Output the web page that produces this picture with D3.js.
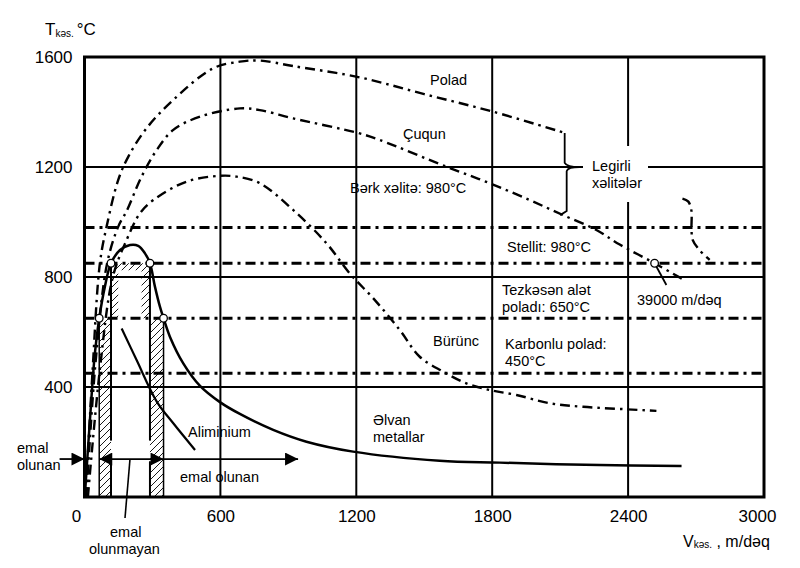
<!DOCTYPE html>
<html><head><meta charset="utf-8">
<script src="https://cdn.jsdelivr.net/npm/d3@7"></script>
<style>
html,body{margin:0;padding:0;background:#fff;}
text{font-family:"Liberation Sans",Arial,sans-serif;fill:#000;}
</style></head>
<body><svg id="c" width="800" height="568"></svg>
<script>
// ---- data ----
const xTicks = [0, 600, 1200, 1800, 2400, 3000];
const yTicks = [400, 800, 1200, 1600];
const xGrid = [600, 1200, 1800, 2400];
const yGrid = [400, 800, 1200];
const toolLimits = [980, 850, 650, 450];   // dash-dot temperature levels

const polad = [[5,0],[35,450],[68,850],[98,985],[149,1153],[193,1237],[274,1341],[392,1444],[568,1559],[686,1583],[774,1587],[921,1567],[1215,1526],[1500,1465],[1804,1401],[2120,1324]];
const cuqun = [[8,0],[50,500],[100,850],[150,985],[186,1040],[252,1165],[319,1262],[392,1335],[510,1383],[686,1413],[774,1407],[921,1377],[1215,1322],[1304,1298],[1598,1201],[1789,1141],[1965,1080],[2113,1025],[2260,971],[2363,918],[2517,850],[2641,792]];
const burunc = [[15,0],[70,480],[125,800],[186,935],[245,1032],[304,1080],[451,1147],[598,1168],[671,1165],[774,1141],[921,1044],[1068,923],[1171,813],[1282,716],[1392,607],[1480,510],[1583,456],[1686,413],[1789,389],[1907,371],[2054,341],[2201,328],[2392,319],[2525,313]];
const legirliTail = [[2640,1085],[2665,1075],[2679,1044],[2680,971],[2685,935],[2715,898],[2760,862]];
const alvan = [[2,10],[24,280],[46,524],[65,650],[90,765],[117,850],[157,898],[201,916],[237,913],[267,886],[289,850],[311,765],[333,692],[349,650],[377,583],[436,486],[510,404],[598,345],[686,302],[833,244],[980,201],[1186,165],[1568,132],[1833,125],[2274,116],[2636,113]];
const aliminium = [[164,613],[230,498],[319,347],[392,268],[488,171]];
const markers = [[65,650],[117,850],[289,850],[349,650],[2517,850]];
// hatched zones (x0,x1,y0,y1) and inverted U
const strips = [[65,117,0,650],[289,349,0,650]];
const uZone = [[117,850],[289,850],[289,650],[252,650],[252,825],[149,825],[149,650],[117,650]];
const arrowY = 138;

// ---- scales ----
const x = d3.scaleLinear().domain([0,3000]).range([84.5,764]);
const y = d3.scaleLinear().domain([0,1600]).range([497,57]);
const svg = d3.select("#c");
const line = d3.line().x(d=>x(d[0])).y(d=>y(d[1])).curve(d3.curveCatmullRom.alpha(0.5));
const lin = d3.line().x(d=>x(d[0])).y(d=>y(d[1]));

const defs = svg.append("defs");
const pat = defs.append("pattern").attr("id","hatch").attr("patternUnits","userSpaceOnUse")
  .attr("width",7).attr("height",7);
pat.append("path").attr("d","M-1,8 L8,-1 M-1,1 L1,-1 M6,8 L8,6").attr("stroke","#000").attr("stroke-width",0.9);
const ah = defs.append("marker").attr("id","ah").attr("viewBox","0 0 10 10").attr("refX",10).attr("refY",5)
  .attr("markerWidth",14).attr("markerHeight",13).attr("markerUnits","userSpaceOnUse").attr("orient","auto-start-reverse");
ah.append("path").attr("d","M0,0 L10,5 L0,10 Z").attr("fill","#000");

// hatches
svg.selectAll(".strip").data(strips).join("rect")
  .attr("x",d=>x(d[0])).attr("y",d=>y(d[3])).attr("width",d=>x(d[1])-x(d[0])).attr("height",d=>y(d[2])-y(d[3]))
  .attr("fill","url(#hatch)");
svg.append("path").attr("d",lin(uZone)+"Z").attr("fill","url(#hatch)");

// grid
svg.selectAll(".vg").data(xGrid).join("line").attr("x1",d=>x(d)).attr("x2",d=>x(d)).attr("y1",y(1600)).attr("y2",y(0))
  .attr("stroke","#000").attr("stroke-width",2);
svg.selectAll(".hg").data(yGrid).join("line").attr("x1",x(0)).attr("x2",x(3000)).attr("y1",d=>y(d)).attr("y2",d=>y(d))
  .attr("stroke","#000").attr("stroke-width",2);
svg.selectAll(".tl").data(toolLimits).join("line").attr("x1",x(0)).attr("x2",x(3000)).attr("y1",d=>y(d)).attr("y2",d=>y(d))
  .attr("stroke","#000").attr("stroke-width",3).attr("stroke-dasharray","10,5,3,5");

// strip borders
const edges = [[65,0,650],[349,0,650]];
svg.selectAll(".ed").data(edges).join("line").attr("x1",d=>x(d[0])).attr("x2",d=>x(d[0])).attr("y1",d=>y(d[1])).attr("y2",d=>y(d[2]))
  .attr("stroke","#000").attr("stroke-width",1.5);
const broken = [[117,850,205],[117,130,0],[289,850,205],[289,130,0]];
svg.selectAll(".br").data(broken).join("line").attr("x1",d=>x(d[0])).attr("x2",d=>x(d[0])).attr("y1",d=>y(d[1])).attr("y2",d=>y(d[2]))
  .attr("stroke","#000").attr("stroke-width",2);

// curves
const dd = "10,5,2.5,5";
[polad,cuqun,burunc,legirliTail].forEach(s=>{
  svg.append("path").attr("d",line(s)).attr("fill","none").attr("stroke","#000").attr("stroke-width",2.4).attr("stroke-dasharray",dd);
});
svg.append("path").attr("d",line(alvan)).attr("fill","none").attr("stroke","#000").attr("stroke-width",2.5);
svg.append("path").attr("d",line(aliminium)).attr("fill","none").attr("stroke","#000").attr("stroke-width",2.2);

// brace
const bx = x(2120);
svg.append("path").attr("d",`M${bx},${y(1324)} L${bx},${y(1215)} Q${bx+2},${y(1200)} ${x(2185)},${y(1200)} Q${bx+3},${y(1200)} ${bx+2},${y(1185)} L${bx+2},${y(1040)} L${x(2100)},${y(1025)}`)
  .attr("fill","none").attr("stroke","#000").attr("stroke-width",1.8);

// white boxes behind labels
svg.append("rect").attr("x",583).attr("y",146).attr("width",65).attr("height",56).attr("fill","#fff");
svg.append("rect").attr("x",633).attr("y",284).attr("width",97).attr("height",32).attr("fill","#fff");

// leader to 39000
svg.append("line").attr("x1",x(2517)).attr("y1",y(850)).attr("x2",x(2569)).attr("y2",y(771)).attr("stroke","#000").attr("stroke-width",1.8);

// arrows
const arr = (a,b,both)=>{
  const l = svg.append("line").attr("x1",x(a)).attr("x2",x(b)).attr("y1",y(arrowY)).attr("y2",y(arrowY))
    .attr("stroke","#000").attr("stroke-width",1.8).attr("marker-end","url(#ah)");
  if(both) l.attr("marker-start","url(#ah)");
};
arr(-110,0,false);
arr(65,349,true);
arr(349,943,false);
svg.append("line").attr("x1",130).attr("y1",y(arrowY)).attr("x2",125).attr("y2",518).attr("stroke","#000").attr("stroke-width",1.6);

// frame
svg.append("rect").attr("x",x(0)).attr("y",y(1600)).attr("width",x(3000)-x(0)).attr("height",y(0)-y(1600))
  .attr("fill","none").attr("stroke","#000").attr("stroke-width",3);

// markers
svg.selectAll(".mk").data(markers).join("circle").attr("cx",d=>x(d[0])).attr("cy",d=>y(d[1])).attr("r",3.8)
  .attr("fill","#fff").attr("stroke","#000").attr("stroke-width",1.3);

// axes
const ya = svg.append("g").attr("transform",`translate(${x(0)},0)`)
  .call(d3.axisLeft(y).tickValues(yTicks).tickFormat(d3.format("d")).tickSize(0).tickPadding(12));
ya.select(".domain").remove();
ya.selectAll("text").style("font-size","17px").style("font-family","Liberation Sans, Arial, sans-serif");
const xa = svg.append("g").attr("transform",`translate(0,${y(0)})`)
  .call(d3.axisBottom(x).tickValues(xTicks).tickFormat(d3.format("d")).tickSize(0).tickPadding(13));
xa.select(".domain").remove();
xa.selectAll("text").style("font-size","17px").style("font-family","Liberation Sans, Arial, sans-serif")
  .attr("dx",d=>d===0?-8.5:(d===3000?-7:0));

// axis titles
const t1 = svg.append("text").attr("x",45).attr("y",35).style("font-size","17px");
t1.append("tspan").text("T");
t1.append("tspan").attr("dy",2).style("font-size","10px").text("kəs.");
t1.append("tspan").attr("dy",-2).attr("dx",3).text("°C");
const t2 = svg.append("text").attr("x",683).attr("y",547).style("font-size","16px");
t2.append("tspan").text("V");
t2.append("tspan").attr("dy",1).style("font-size","10px").text("kəs.");
t2.append("tspan").attr("dy",-1).text(" , m/dəq");

// labels
const labels = [
  ["Polad",430,85],["Çuqun",403,139],["Legirli",592,171],["xəlitələr",592,188],
  ["Bərk xəlitə: 980°C",350,193],["Stellit: 980°C",507,252],["Tezkəsən alət",502,295],["poladı: 650°C",502,312],
  ["Karbonlu polad:",505,349],["450°C",505,366],["39000 m/dəq",637,305],["Bürünc",433,346],
  ["Əlvan",373,425],["metallar",373,442],["Aliminium",188,437],["emal olunan",180,482],
  ["emal",17,453],["olunan",17,470],["emal",110,537],["olunmayan",89,554]
];
svg.selectAll(".lb").data(labels).join("text").attr("x",d=>d[1]).attr("y",d=>d[2]).style("font-size","14.5px").text(d=>d[0]);
</script></body></html>
